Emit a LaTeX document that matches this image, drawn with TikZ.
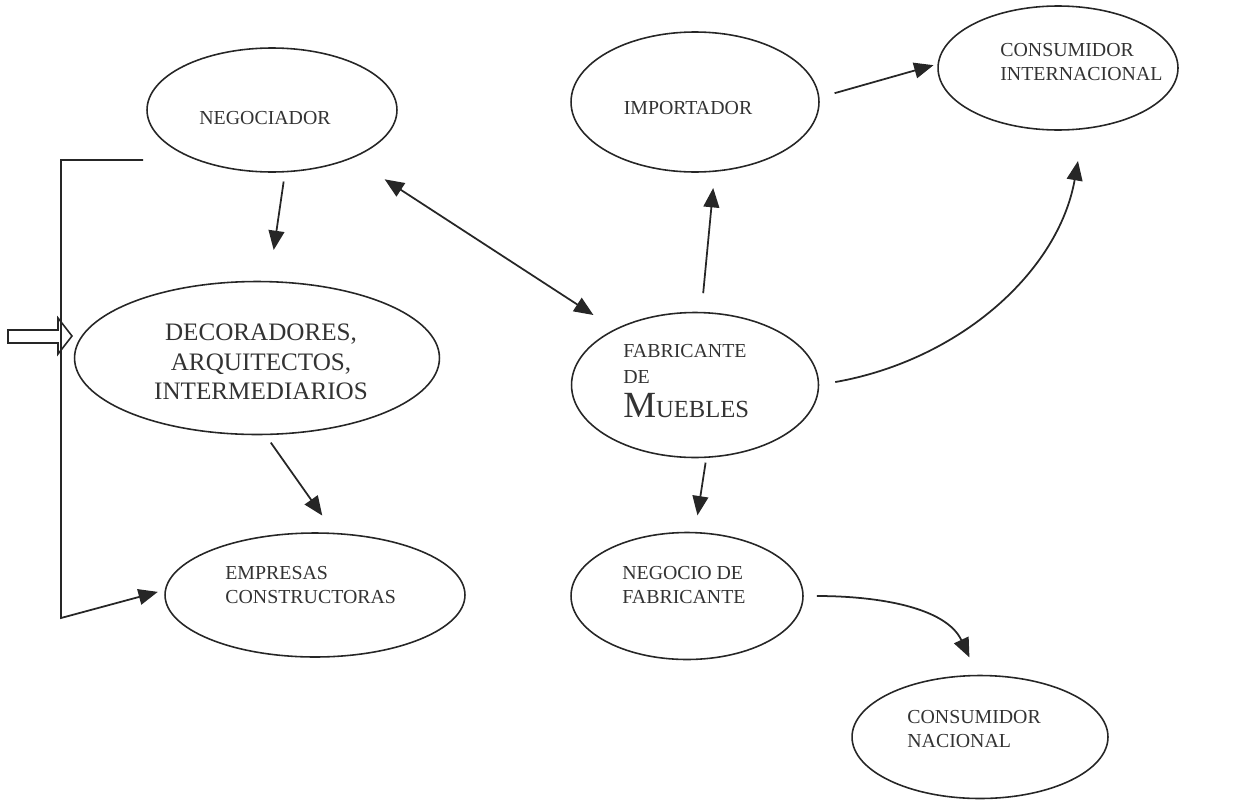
\documentclass[tikz,border=0pt]{standalone}
\usepackage{fontspec}
\setmainfont{Liberation Serif}
\usetikzlibrary{shapes.geometric, arrows.meta, calc}

\begin{document}
\begin{tikzpicture}[x=0.02cm, y=-0.02cm,
  oval/.style={ellipse, draw=black!85, line width=0.9pt, inner sep=0pt, outer sep=0pt},
  lbl/.style={font=\fontsize{11.3}{13.8}\selectfont, text=black!80, align=left, inner sep=0pt},
  arrow/.style={-{Triangle[length=11pt, width=9pt]}, line width=1pt, draw=black!85},
  twoway/.style={{Triangle[length=11pt, width=9pt]}-{Triangle[length=11pt, width=9pt]}, line width=1pt, draw=black!85}
]
  \useasboundingbox (0,0) rectangle (1239,801);

  % actores
  \node[oval, minimum width=5cm, minimum height=2.48cm] (negociador) at (272,110) {};
  \node[oval, minimum width=4.96cm, minimum height=2.8cm] (importador) at (695,102) {};
  \node[oval, minimum width=4.8cm, minimum height=2.48cm] (consint) at (1058,68) {};
  \node[oval, minimum width=7.3cm, minimum height=3.06cm] (decoradores) at (257,358) {};
  \node[oval, minimum width=4.94cm, minimum height=2.9cm] (fabricante) at (695,385) {};
  \node[oval, minimum width=6cm, minimum height=2.48cm] (empresas) at (315,595) {};
  \node[oval, minimum width=4.64cm, minimum height=2.54cm] (negocio) at (687,596) {};
  \node[oval, minimum width=5.12cm, minimum height=2.46cm] (consnac) at (980,737) {};

  % textos
  \node[lbl] (negociador-t) at (265,118) {NEGOCIADOR};
  \node[lbl] (importador-t) at (688,108) {IMPORTADOR};
  \node[lbl, anchor=west] (consint-t) at (1000,62) {CONSUMIDOR\\INTERNACIONAL};
  \node[lbl, align=center, font=\fontsize{14.3}{16.7}\selectfont] (decoradores-t) at (261,362)
    {DECORADORES,\\ARQUITECTOS,\\INTERMEDIARIOS};
  \node[lbl, anchor=north west, font=\fontsize{11.3}{14.7}\selectfont] (fabricante-t) at (623,344)
    {FABRICANTE\\DE\\[5pt]{\fontsize{21}{21}\selectfont M}{\fontsize{14}{14}\selectfont UEBLES}};
  \node[lbl, anchor=west] (empresas-t) at (225,585) {EMPRESAS\\CONSTRUCTORAS};
  \node[lbl, anchor=west] (negocio-t) at (622,585) {NEGOCIO DE\\FABRICANTE};
  \node[lbl, anchor=west] (consnac-t) at (907,729) {CONSUMIDOR\\NACIONAL};

  % flechas
  \draw[arrow, shorten <=0.2cm, shorten >=0.64cm] (negociador.-78.6) -- (decoradores.81.6);
  \draw[arrow, shorten <=0.2cm, shorten >=0.44cm] (decoradores.-84.8) -- (empresas.72);
  \draw[twoway, shorten <=0.79cm, shorten >=0.53cm] (negociador.-31.9) -- (fabricante.145);
  \draw[arrow, shorten <=0.39cm, shorten >=0.34cm] (fabricante.85.2) -- (importador.-74.3);
  \draw[arrow, shorten <=0.33cm, shorten >=0.1cm] (importador.2.2) -- (consint.178.9);
  \draw[arrow, shorten <=0.34cm, shorten >=0.66cm] (fabricante.east) to[out=10, in=-100] (consint.-67.9);
  \draw[arrow, shorten <=0.11cm, shorten >=0.35cm] (fabricante.-81.5) -- (negocio.83.4);
  \draw[arrow, shorten <=0.28cm, shorten >=0.4cm] (negocio.east) to[out=0, in=115] (consnac.92);

  % corchete
  \coordinate (brk) at (143,160);
  \draw[arrow, shorten >=0.16cm] (brk) -- ++(-82,0) -- ++(0,458) -- (empresas.178);
  \draw[line width=0.9pt, draw=black!85] (8,330) -- (58,330) -- (58,318) -- (72,336)
    -- (58,354) -- (58,343) -- (8,343) -- cycle;
\end{tikzpicture}
\end{document}
